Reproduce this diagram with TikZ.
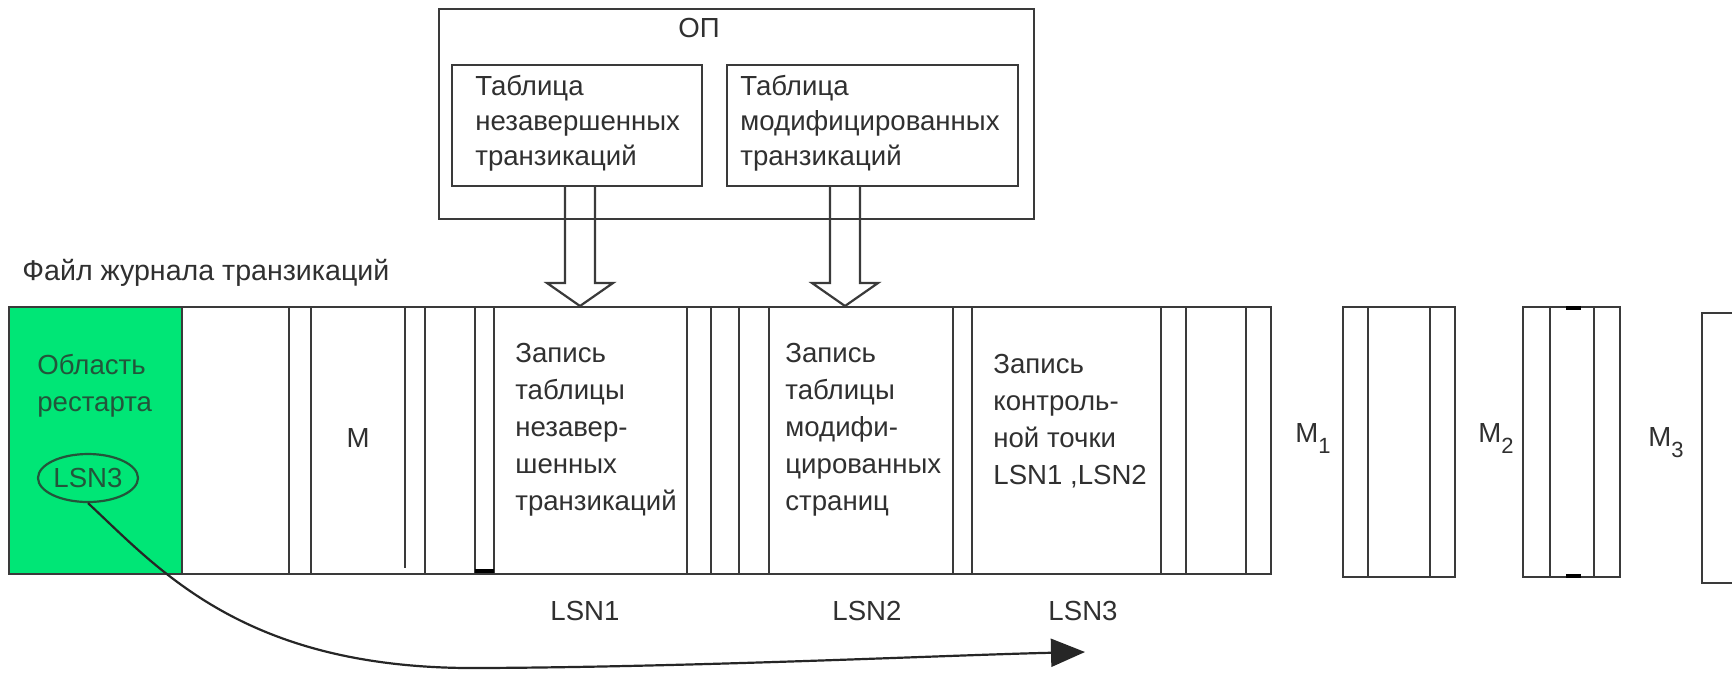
\documentclass[tikz,border=0pt]{standalone}
\usepackage{fontspec}
\setmainfont{Liberation Sans}
\usetikzlibrary{arrows.meta,calc,shapes.geometric}
\definecolor{ink}{HTML}{303030}
\definecolor{rule}{HTML}{3A3A3A}
\definecolor{restart}{HTML}{00E676}
\definecolor{restartink}{HTML}{23553A}
\newcommand{\idx}[1]{\raisebox{-5.5pt}{\fontsize{11}{11}\selectfont #1}}

\begin{document}
\begin{tikzpicture}[x=0.5pt,y=-0.5pt,
  every node/.style={font=\fontsize{13.8}{18.5}\selectfont, text=ink, inner sep=0pt},
  frame/.style={draw=rule, line width=1.1pt},
  boxnode/.style={frame, anchor=north west},
  celltext/.style={align=left, anchor=west},
  tabletext/.style={align=left, anchor=west, font=\fontsize{13.8}{17.5}\selectfont},
  hollowarrow/.style={draw=rule, line width=1.1pt, line join=miter},
  pointer/.style={draw=black!85, line width=1.1pt, -{Triangle[length=17pt,width=14pt]}}
]
\useasboundingbox (0,0) rectangle (1732,682);
\fill[white] (0,0) rectangle (1732,682);

% main memory with its two tables
\node[boxnode, minimum width=297.5pt, minimum height=105pt] (op) at (438,8) {};
\node[anchor=base] (opl) at (699,37) {ОП};
\node[boxnode, minimum width=125pt, minimum height=60.5pt] (box1) at (451,64) {};
\node[boxnode, minimum width=145.5pt, minimum height=60.5pt] (box2) at (726,64) {};
\node[tabletext] (t1) at (475,123) {Таблица\\незавершенных\\транзикаций};
\node[tabletext] (t2) at (740,123) {Таблица\\модифицированных\\транзикаций};

% log file strip
\node[anchor=base west, font=\fontsize{14.3}{17}\selectfont] (title) at (22,280) {Файл журнала транзикаций};
\fill[restart] (9,307) rectangle (182,574);
\draw[frame] (9,307) rectangle (1271,574);
\draw[frame] (182,307) -- (182,574);
\foreach \x in {289,311,425,475,494,687,711,739,769,953,972,1161,1186,1246}
  \draw[frame] (\x,307) -- (\x,574);
\draw[frame] (405,307) -- (405,568);
\draw[black, line width=2pt] (475,571) -- (494,571);

% restart area
\node[celltext, text=restartink] (tr) at (37,386) {Область\\рестарта};
\node[ellipse, draw=restartink, line width=1.1pt, text=restartink,
      minimum width=50pt, minimum height=24pt] (lsnbox) at (88,478) {LSN3};

% records of the log
\node[anchor=base] (m) at (358,447) {M};
\node[celltext] (c1) at (515,430) {Запись\\таблицы\\незавер-\\шенных\\транзикаций};
\node[celltext] (c2) at (785,430) {Запись\\таблицы\\модифи-\\цированных\\страниц};
\node[celltext] (c3) at (993,421) {Запись\\контроль-\\ной точки\\LSN1 ,LSN2};

\node[anchor=base] (lsn1) at (585,620) {LSN1};
\node[anchor=base] (lsn2) at (867,620) {LSN2};
\node[anchor=base] (lsn3) at (1083,620) {LSN3};

% block arrows from the tables into the log
\coordinate (a1) at (580,306);
\coordinate (a2) at (845,306);
\draw[hollowarrow] ($(box1.south -| a1)+(-15,0)$) -- ($(a1)+(-15,-23)$)
  -- ($(a1)+(-33,-23)$) -- (a1) -- ($(a1)+(33,-23)$) -- ($(a1)+(15,-23)$)
  -- ($(box1.south -| a1)+(15,0)$);
\draw[hollowarrow] ($(box2.south -| a2)+(-15,0)$) -- ($(a2)+(-15,-23)$)
  -- ($(a2)+(-33,-23)$) -- (a2) -- ($(a2)+(33,-23)$) -- ($(a2)+(15,-23)$)
  -- ($(box2.south -| a2)+(15,0)$);

% following log segments
\node[anchor=base west] (m1) at (1295,442) {M\idx{1}};
\draw[frame] (1343,307) rectangle (1455,577);
\draw[frame] (1368,307) -- (1368,577);
\draw[frame] (1430,307) -- (1430,577);

\node[anchor=base west] (m2) at (1478,442) {M\idx{2}};
\draw[frame] (1523,307) rectangle (1620,577);
\draw[frame] (1550,307) -- (1550,577);
\draw[frame] (1594,307) -- (1594,577);
\draw[black, line width=2pt] (1566,308) -- (1581,308);
\draw[black, line width=2pt] (1566,576) -- (1581,576);

\node[anchor=base west] (m3) at (1648,446) {M\idx{3}};
\draw[frame] (1732,313) -- (1702,313) -- (1702,583) -- (1732,583);

% pointer from the restart area to the last checkpoint
\coordinate (lsnend) at (1085,652);
\draw[pointer] (lsnbox.south) .. controls (160,570) and (245,670) .. (480,668)
  .. controls (700,667) and (950,655) .. (lsnend);
\end{tikzpicture}
\end{document}
